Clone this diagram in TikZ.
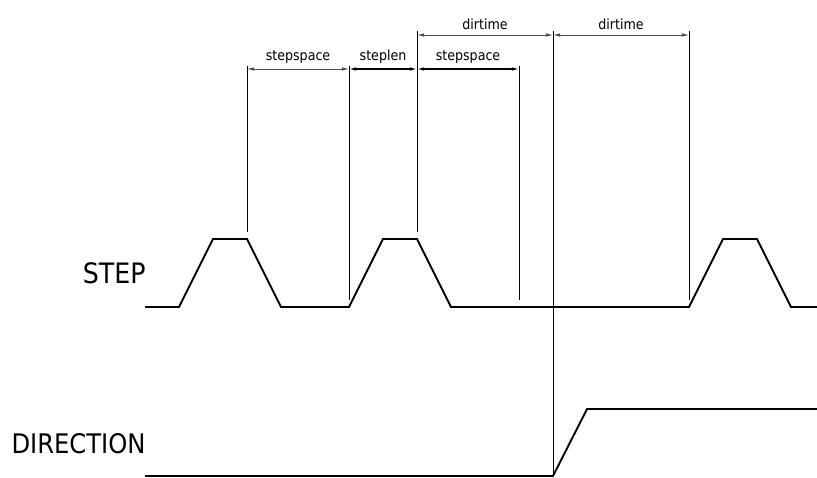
\documentclass[tikz,border=0pt]{standalone}
\usepackage{fontspec}
\setmainfont{DejaVu Sans Condensed}
\usetikzlibrary{positioning, arrows.meta}
\newcommand{\stepCoords}{(145,307)(179,307)(213,239)(247,239)(281,307)(349,307)(383,239)(417,239)(451,307)(689,307)(723,239)(757,239)(791,307)(817,307)}
\newcommand{\dirCoords}{(145,476)(553,476)(587,409)(817,409)}

\begin{document}
\begin{tikzpicture}[x=0.03cm, y=-0.03cm,
  wave/.style={line width=1.6pt},
  extline/.style={line width=0.8pt},
  dimline/.style={line width=0.7pt, black!70, {Latex[length=6pt,width=3pt]}-{Latex[length=6pt,width=3pt]}},
  dimlabel/.style={font=\fontsize{12}{14}\selectfont, text=black, above=3pt, inner sep=1pt},
  siglabel/.style={font=\fontsize{24}{28}\selectfont, anchor=east, inner sep=1pt}]
  \useasboundingbox (0,0) rectangle (817,477);
  % signal names
  \node[siglabel] (steplbl) at (147,273) {STEP};
  \node[siglabel, font=\fontsize{23}{27}\selectfont] (dirlbl) at (147,443.5) {DIRECTION};
  % waveforms
  \draw[wave] plot coordinates {\stepCoords};
  \draw[wave] plot coordinates {\dirCoords};
  % extension lines
  \foreach \x/\ya/\yb in {247/66/232, 349/66/300, 417/31/232, 519/66/300, 553/31/476, 689/31/300}
    \draw[extline] (\x,\ya) -- (\x,\yb);
  % dimension points
  \coordinate (s1) at (247,69);
  \coordinate (s2) at (349,69);
  \coordinate (s3) at (417,69);
  \coordinate (s4) at (519,69);
  \coordinate (d1) at (417,35);
  \coordinate (d2) at (553,35);
  \coordinate (d3) at (689,35);
  \draw[dimline] (s1) -- node[dimlabel] (sp1) {stepspace} (s2);
  \draw[dimline, black, line width=0.9pt] (s2) -- node[dimlabel] (sl) {steplen} (s3);
  \draw[dimline, black, line width=0.9pt] (s3) -- node[dimlabel] (sp2) {stepspace} (s4);
  \draw[dimline] (d1) -- node[dimlabel] (dt1) {dirtime} (d2);
  \draw[dimline] (d2) -- node[dimlabel] (dt2) {dirtime} (d3);
\end{tikzpicture}
\end{document}
